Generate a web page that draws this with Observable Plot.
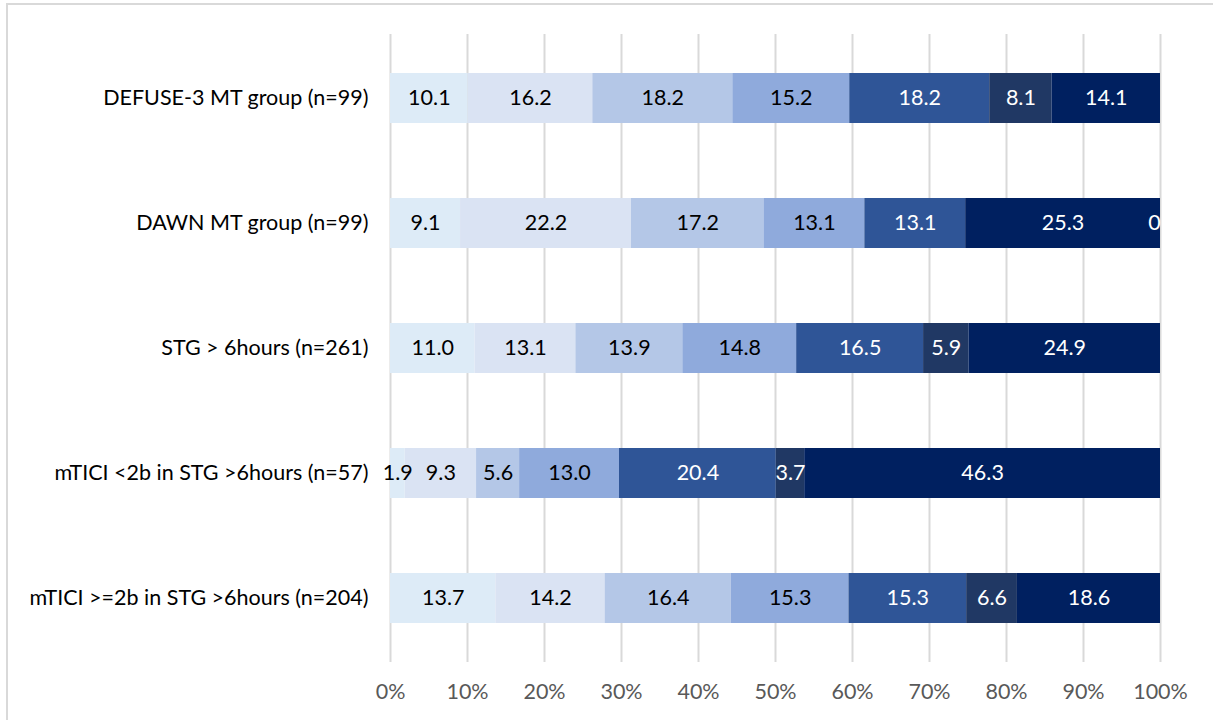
<!DOCTYPE html>
<html>
<head>
<meta charset="utf-8">
<script src="https://cdn.jsdelivr.net/npm/d3@7"></script>
<script src="https://cdn.jsdelivr.net/npm/@observablehq/plot@0.6"></script>
<style>
  html, body { margin: 0; padding: 0; background: #fff; overflow: hidden; }
  #frame { position: absolute; left: 6px; top: 3px; width: 1300px; height: 800px; border: 2px solid #d9d9d9; box-sizing: border-box; }
  #chart { position: absolute; left: 0; top: 0; }
</style>
</head>
<body>
<div id="frame"></div>
<div id="chart"></div>
<script>
// Categories (top to bottom)
const categories = [
  "DEFUSE-3 MT group (n=99)",
  "DAWN MT group (n=99)",
  "STG > 6hours (n=261)",
  "mTICI <2b in STG >6hours (n=57)",
  "mTICI >=2b in STG >6hours (n=204)"
];
// Series values (percent), one array per segment, in category order
const seg0 = [10.1, 9.1, 11.0, 1.9, 13.7];
const seg1 = [16.2, 22.2, 13.1, 9.3, 14.2];
const seg2 = [18.2, 17.2, 13.9, 5.6, 16.4];
const seg3 = [15.2, 13.1, 14.8, 13.0, 15.3];
const seg4 = [18.2, 13.1, 16.5, 20.4, 15.3];
const seg5 = [8.1, 25.3, 5.9, 3.7, 6.6];
const seg6 = [14.1, 0, 24.9, 46.3, 18.6];
const tickValues = [0, 0.1, 0.2, 0.3, 0.4, 0.5, 0.6, 0.7, 0.8, 0.9, 1];
// In the DAWN row the 25.3 segment is drawn in the darkest colour
const combinedRow = "DAWN MT group (n=99)";

const seriesList = [seg0, seg1, seg2, seg3, seg4, seg5, seg6];
const colors = ["#DDEBF7", "#DAE3F3", "#B4C7E7", "#8FAADC", "#2F5597", "#203864", "#002060"];

const rows = categories.flatMap((c, i) =>
  seriesList.map((s, j) => ({category: c, series: j, value: s[i]}))
);
const fillOf = d => (d.category === combinedRow && d.series === 5) ? colors[6] : colors[d.series];
const textColorOf = d => d.series >= 4 ? "#ffffff" : "#000000";
const fmt = v => v === 0 ? "0" : v.toFixed(1);

const FONT = "Lato, 'Open Sans', sans-serif";
const stackOpts = {x: "value", y: "category", z: "series", order: null, offset: "normalize"};

const chart = Plot.plot({
  width: 1213,
  height: 720,
  marginLeft: 390,
  marginRight: 53,
  marginTop: 34,
  marginBottom: 58,
  style: {fontFamily: FONT, fontSize: "21px", background: "transparent", overflow: "visible"},
  x: {domain: [0, 1]},
  y: {domain: categories, paddingInner: 0.6, paddingOuter: 0.3, align: 0.5},
  marks: [
    Plot.gridX(tickValues, {stroke: "#d9d9d9", strokeOpacity: 1, strokeWidth: 2}),
    Plot.barX(rows, Plot.stackX({...stackOpts, fill: fillOf})),
    Plot.textX(rows, Plot.filter(d => d.value !== 0, Plot.stackX({
      ...stackOpts, text: d => fmt(d.value), fill: textColorOf, fontSize: 21.5
    }))),
    Plot.textX(rows, Plot.filter(d => d.value === 0, Plot.stackX({
      ...stackOpts, text: d => fmt(d.value), fill: "#ffffff", fontSize: 21.5, dx: -6
    }))),
    Plot.axisX({ticks: tickValues, tickFormat: d3.format(".0%"), tickSize: 0, tickPadding: 21,
      fontSize: 21.5, color: "#595959", label: null}),
    Plot.axisY({tickSize: 0, tickPadding: 22, fontSize: 21.5, color: "#000000", label: null})
  ]
});
document.getElementById("chart").appendChild(chart);
</script>
</body>
</html>
